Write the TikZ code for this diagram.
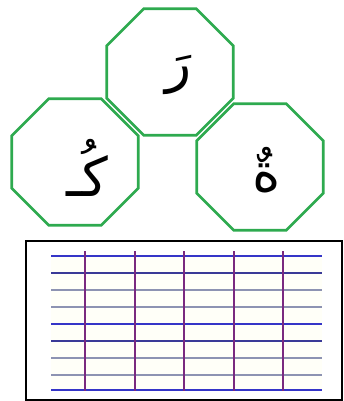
\documentclass[tikz,border=0pt]{standalone}
\usepackage{fontspec}
\usetikzlibrary{shapes.geometric}
\newfontfamily\arabicfont[Script=Arabic]{DejaVu Sans}
\TeXXeTstate=1
\definecolor{octgreen}{HTML}{2EAA4F}
\definecolor{ruleblue}{HTML}{3535C8}
\definecolor{ruledark}{HTML}{3A3A98}
\definecolor{rulegray}{HTML}{8D93B2}
\definecolor{rulepurple}{HTML}{7A2A80}
\definecolor{paper}{HTML}{FFFFF8}
\begin{document}
\begin{tikzpicture}[x=1pt,y=-1pt,
 oct/.style={draw=octgreen,line width=2.8pt,regular polygon,regular polygon sides=8,minimum size=137pt,inner sep=0pt},
 letter/.style={font=\arabicfont\fontsize{54}{60}\selectfont,inner sep=0pt}]
\useasboundingbox (0,0) rectangle (343,401);
\node[oct] (ra) at (170,72) {};
\node[oct] (kaf) at (75,162) {};
\node[oct] (taa) at (260,167) {};
\node[letter] (rat) at (179,75) {\beginR رَ\endR};
\node[letter] (kaft) at (87,168) {\beginR كُـ\endR};
\node[letter] (taat) at (267,170) {\beginR ةٌ\endR};
% lined paper
\draw[line width=1.6pt] (26,241) rectangle (342,400);
\fill[paper] (51,256) rectangle (322,390);
\foreach \y/\c/\w in {256/ruleblue/2.2,273/ruledark/1.6,290/rulegray/1.6,307/rulegray/1.6,
 324/ruleblue/1.8,341/ruledark/1.6,358/rulegray/1.6,375/rulegray/1.6,390/ruleblue/1.8}
 \draw[\c,line width=\w pt] (51,\y) -- (322,\y);
\foreach \x in {85,135,184,234,283}
 \draw[rulepurple,line width=2.1pt] (\x,251) -- (\x,391);
\end{tikzpicture}
\end{document}
